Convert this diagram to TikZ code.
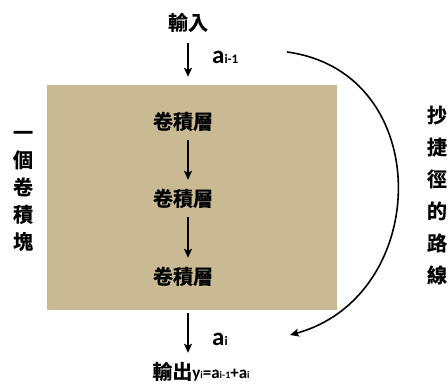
\documentclass[tikz,border=0pt]{standalone}
\usepackage{fontspec}
\newfontfamily\cjk{Noto Sans CJK TC}[BoldFont={Noto Sans CJK TC Bold},BoldFeatures={FakeBold=0.6}]
\newfontfamily\lat{Carlito}
\usetikzlibrary{arrows.meta}
\definecolor{blocktan}{RGB}{201,186,147}
\tikzset{
  arr/.style={line width=1.6pt,-{Stealth[length=9pt,width=8pt,inset=2pt]}},
  zh/.style={font=\cjk\bfseries\fontsize{20}{20}\selectfont,inner sep=0pt,text height=15pt,text depth=3pt},
  lab/.style={font=\lat\bfseries,inner sep=0pt},
  vert/.style={font=\cjk\bfseries\fontsize{20}{#1}\selectfont,align=center,inner sep=0pt}
}
\begin{document}
\begin{tikzpicture}[x=1pt,y=-1pt]
\useasboundingbox (0,0) rectangle (448,385);
\node[fill=blocktan,minimum width=290pt,minimum height=225pt,inner sep=0pt] (blk) at (192,197.5) {};
\node[zh] (in) at (188,24) {輸入};
\node[zh] (L1) at (183,123) {卷積層};
\node[zh] (L2) at (183,200) {卷積層};
\node[zh] (L3) at (183,278) {卷積層};
\node[zh,anchor=center] (out) at (201,373) {輸出{\lat\fontsize{17}{17}\selectfont y{\fontsize{10}{10}\selectfont i}=a{\fontsize{10}{10}\selectfont i-1}+a{\fontsize{10}{10}\selectfont i}}};
\node[lab,anchor=base west] (aim) at (212,64) {\fontsize{25}{25}\selectfont a\fontsize{13}{13}\selectfont i-1};
\node[lab,anchor=base west] (ai) at (212,346) {\fontsize{25}{25}\selectfont a\fontsize{13}{13}\selectfont i};
\node[vert=27.25] (left) at (23,191) {一\\個\\卷\\積\\塊};
\node[vert=32] (right) at (437,195) {抄\\捷\\徑\\的\\路\\線};
\coordinate (cs) at (287,52);
\coordinate (ce) at (290,335);
\draw[arr,shorten <=10pt,shorten >=8pt] (in.south) -- (in.south |- blk.north);
\draw[arr,shorten <=8pt,shorten >=11pt] ([xshift=5pt]L1.south) -- ([xshift=5pt]L2.north);
\draw[arr,shorten <=8pt,shorten >=11pt] ([xshift=5pt]L2.south) -- ([xshift=5pt]L3.north);
\draw[arr,shorten <=3pt,shorten >=11pt] (in.south |- blk.south) -- (in.south |- out.north);
\draw[arr] (cs) .. controls (436,72) and (432,296) .. (ce);
\end{tikzpicture}
\end{document}
